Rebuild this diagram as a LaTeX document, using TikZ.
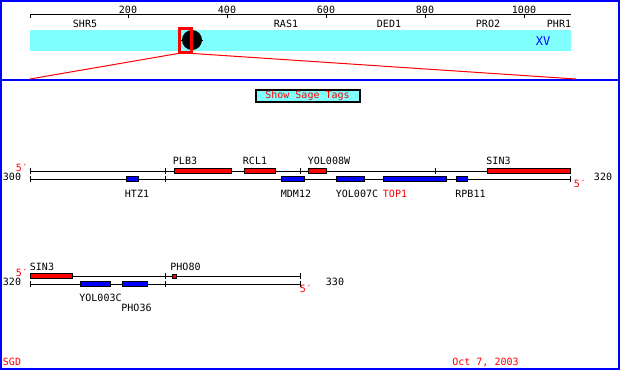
\documentclass[tikz,border=0pt]{standalone}
\usepackage{fontspec}
\setmainfont{DejaVu Sans Mono}
\begin{document}
\begin{tikzpicture}[x=1pt,y=-1pt,
  txt/.style={font=\fontsize{10}{10}\selectfont,inner sep=0pt,anchor=center},
  rtxt/.style={txt,text=red},
  redgene/.style={fill=red,draw=black,line width=0.5pt,inner sep=0pt,minimum height=5pt},
  bluegene/.style={fill=blue,draw=black,line width=0.5pt,inner sep=0pt,minimum height=5pt},
  strand/.style={line width=1pt,black},
  tick/.style={line width=1pt,black}]
\definecolor{lcyan}{RGB}{128,255,255}
\useasboundingbox (0,0) rectangle (620,370);
\fill[white] (0,0) rectangle (620,370);
% frame
\draw[blue,line width=2pt] (1,1) rectangle (619,369);
\draw[blue,line width=2pt] (0,80) -- (620,80);
% ruler
\coordinate (rL) at (30,14); \coordinate (rR) at (571,14);
\draw[tick] (rL) -- (rR);
\draw[tick] (rL) -- ++(0,4);
\foreach \x/\l in {128/200,227/400,326/600,425/800,524/1000}{
  \draw[tick] (\x,14) -- (\x,18);
  \node[txt] (t\l) at (\x,10) {\l};
}
% chromosome band
\node[fill=lcyan,inner sep=0pt,minimum width=541pt,minimum height=21pt,anchor=north west] (band) at (30,30) {};
\node[txt] (gSHR5) at (85,24) {SHR5};
\node[txt] (gRAS1) at (286,24) {RAS1};
\node[txt] (gDED1) at (389,24) {DED1};
\node[txt] (gPRO2) at (488,24) {PRO2};
\node[txt] (gPHR1) at (559,24) {PHR1};
\node[txt,text=blue,font=\fontsize{12}{12}\selectfont] (xv) at (543,41) {XV};
\node[circle,fill=black,minimum size=20pt,inner sep=0pt] (cen) at (192,40) {};
\draw[black,line width=0.8pt] (181,40) -- (203,40);
\node[draw=red,line width=3pt,inner sep=0pt,minimum width=12pt,minimum height=24pt] (zoombox) at (185.5,40) {};
\coordinate (zL) at (30,79); \coordinate (zR) at (576,79);
\draw[red,line width=1pt] (zoombox.south west) -- (zL);
\draw[red,line width=1pt] (zoombox.south east) -- (zR);
% button
\node[draw=black,line width=2pt,fill=lcyan,text=red,font=\fontsize{10}{10}\selectfont,minimum width=104pt,minimum height=12pt,inner sep=0pt] (btn) at (307.5,95.5) {Show Sage Tags};
% track 1
\coordinate (aTL) at (30,171); \coordinate (aTR) at (570,171);
\coordinate (aBL) at (30,179); \coordinate (aBR) at (570,179);
\draw[strand] (aTL) -- (aTR);
\draw[strand] (aBL) -- (aBR);
\foreach \x in {30,165,300,435,570}{
  \draw[tick] (\x,168) -- (\x,174);
  \draw[tick] (\x,176) -- (\x,182);
}
\node[rtxt] (a5l) at (22,168) {5′};
\node[txt] (a300) at (12,177) {300};
\node[txt] (a320) at (603,177) {320};
\node[rtxt] (a5r) at (580,184) {5′};
\node[redgene,minimum width=57pt] (PLB3) at (202.5,171) {};
\node[redgene,minimum width=31pt] (RCL1) at (259.5,171) {};
\node[redgene,minimum width=18pt] (YOL008W) at (317,171) {};
\node[redgene,minimum width=83pt] (SIN3a) at (528.5,171) {};
\node[bluegene,minimum width=12pt] (HTZ1) at (132,179) {};
\node[bluegene,minimum width=23pt] (MDM12) at (292.5,179) {};
\node[bluegene,minimum width=28pt] (YOL007C) at (350,179) {};
\node[bluegene,minimum width=63pt] (TOP1) at (414.5,179) {};
\node[bluegene,minimum width=11pt] (RPB11) at (461.5,179) {};
\node[txt] (lPLB3) at (185,161) {PLB3};
\node[txt] (lRCL1) at (255,161) {RCL1};
\node[txt] (lYOL008W) at (329,161) {YOL008W};
\node[txt] (lSIN3a) at (498.5,161) {SIN3};
\node[txt] (lHTZ1) at (137,194) {HTZ1};
\node[txt] (lMDM12) at (296,194) {MDM12};
\node[txt] (lYOL007C) at (357,194) {YOL007C};
\node[rtxt] (lTOP1) at (395,194) {TOP1};
\node[txt] (lRPB11) at (470.5,194) {RPB11};
% track 2
\coordinate (bTL) at (30,276); \coordinate (bTR) at (300,276);
\coordinate (bBL) at (30,284); \coordinate (bBR) at (300,284);
\draw[strand] (bTL) -- (bTR);
\draw[strand] (bBL) -- (bBR);
\foreach \x in {30,165,300}{
  \draw[tick] (\x,273) -- (\x,279);
  \draw[tick] (\x,281) -- (\x,287);
}
\node[rtxt] (b5l) at (22,273) {5′};
\node[txt] (b320) at (12,282) {320};
\node[txt] (b330) at (335,282) {330};
\node[rtxt] (b5r) at (306,289) {5′};
\node[redgene,minimum width=42pt] (SIN3b) at (51,276) {};
\node[redgene,minimum width=4pt,minimum height=4pt] (PHO80) at (174,276) {};
\node[bluegene,minimum width=30pt] (YOL003C) at (95,284) {};
\node[bluegene,minimum width=25pt] (PHO36) at (134.5,284) {};
\node[txt] (lSIN3b) at (42,267) {SIN3};
\node[txt] (lPHO80) at (185.5,267) {PHO80};
\node[txt] (lYOL003C) at (100.5,298) {YOL003C};
\node[txt] (lPHO36) at (136.5,308) {PHO36};
% footer
\node[rtxt] (sgd) at (12,362) {SGD};
\node[rtxt] (date) at (485.5,362) {Oct 7, 2003};
\end{tikzpicture}
\end{document}
